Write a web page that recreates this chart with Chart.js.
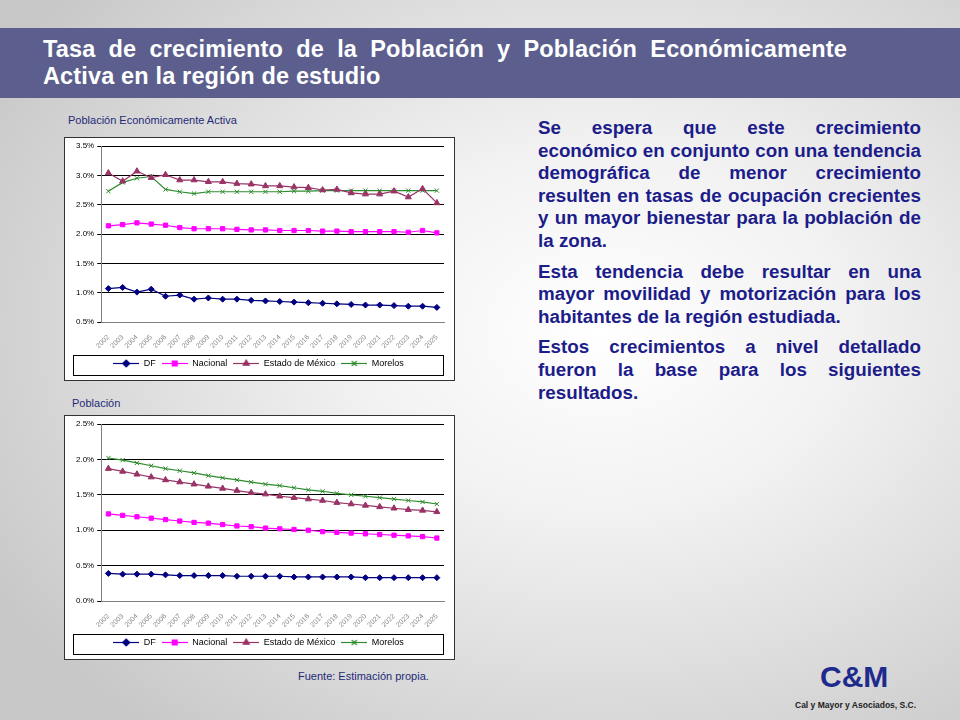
<!DOCTYPE html>
<html>
<head>
<meta charset="utf-8">
<script src="https://cdn.jsdelivr.net/npm/chart.js@4"></script>
<style>
  body { margin: 0; width: 960px; height: 720px; overflow: hidden; font-family: Arial, "Liberation Sans", sans-serif;
    background: radial-gradient(ellipse 700px 520px at 600px 330px, #ffffff 0%, #f2f2f2 35%, #c8c8c8 100%); position: relative; }
  .header { position: absolute; left: 0; top: 28px; width: 960px; height: 70px; background: #5c5f8e; }
  .header h1 { margin: 0; position: absolute; left: 43px; top: 8px; width: 804px; color: #fff; font-size: 20px; line-height: 27px; font-weight: bold; letter-spacing: 0.15px; }
  .header h1 span { display: block; text-align: justify; text-align-last: justify; }
  .cap { position: absolute; font-size: 11px; color: #1f2a78; }
  .box { position: absolute; left: 64px; width: 389px; background: #fff; border: 1px solid #333; }
  .box canvas { display: block; }
  .text { position: absolute; left: 538px; top: 117px; width: 383px; color: #1c1c8a; font-weight: bold; font-size: 18.8px; line-height: 22.6px; text-align: justify; }
  .text p { margin: 0 0 8px 0; }
  .logo { position: absolute; left: 820px; top: 660px; color: #1e2a8c; font-weight: bold; font-size: 30px; }
  .logo2 { position: absolute; left: 795px; top: 700px; color: #222; font-weight: bold; font-size: 8.5px; }
</style>
</head>
<body>
<div class="header"><h1 style="font-size:23.5px"><span>Tasa de crecimiento de la Población y Población Económicamente</span>Activa en la región de estudio</h1></div>
<div class="cap" style="left:68px;top:114px">Población Económicamente Activa</div>
<div class="box" style="top:137px;height:242px"><canvas id="peaChart" width="389" height="242"></canvas></div>
<div class="cap" style="left:72px;top:397px">Población</div>
<div class="box" style="top:415px;height:243px"><canvas id="pobChart" width="389" height="243"></canvas></div>
<div class="cap" style="left:298px;top:670px">Fuente: Estimación propia.</div>
<div class="text">
  <p>Se espera que este crecimiento económico en conjunto con una tendencia demográfica de menor crecimiento resulten en tasas de ocupación crecientes y un mayor bienestar para la población de la zona.</p>
  <p>Esta tendencia debe resultar en una mayor movilidad y motorización para los habitantes de la región estudiada.</p>
  <p>Estos crecimientos a nivel detallado fueron la base para los siguientes resultados.</p>
</div>
<div class="logo">C&amp;M</div>
<div class="logo2">Cal y Mayor y Asociados, S.C.</div>
<script>
// years on the x axis
const years = ['2002','2003','2004','2005','2006','2007','2008','2009','2010','2011','2012','2013',
               '2014','2015','2016','2017','2018','2019','2020','2021','2022','2023','2024','2025'];

// Población Económicamente Activa (%)
const peaDF       = [1.07,1.09,1.01,1.06,0.94,0.96,0.89,0.91,0.89,0.89,0.87,0.86,0.85,0.84,0.83,0.82,0.81,0.80,0.79,0.79,0.78,0.77,0.77,0.75];
const peaNacional = [2.14,2.16,2.19,2.17,2.15,2.11,2.09,2.09,2.09,2.08,2.07,2.07,2.06,2.06,2.06,2.05,2.05,2.04,2.04,2.04,2.04,2.03,2.06,2.02];
const peaEdoMex   = [3.04,2.90,3.07,2.96,3.01,2.92,2.92,2.89,2.89,2.86,2.85,2.82,2.82,2.80,2.79,2.75,2.76,2.70,2.68,2.68,2.73,2.63,2.77,2.53];
const peaMorelos  = [2.73,2.88,2.95,2.98,2.76,2.72,2.69,2.72,2.72,2.72,2.72,2.72,2.72,2.73,2.73,2.74,2.74,2.74,2.74,2.74,2.74,2.74,2.74,2.74];

// Población (%)
const pobDF       = [0.39,0.38,0.38,0.38,0.37,0.36,0.36,0.36,0.36,0.35,0.35,0.35,0.35,0.34,0.34,0.34,0.34,0.34,0.33,0.33,0.33,0.33,0.33,0.33];
const pobNacional = [1.23,1.21,1.19,1.17,1.15,1.13,1.11,1.10,1.08,1.06,1.05,1.03,1.02,1.01,1.00,0.98,0.97,0.96,0.95,0.94,0.93,0.92,0.91,0.89];
const pobEdoMex   = [1.87,1.83,1.79,1.75,1.71,1.68,1.65,1.62,1.59,1.56,1.53,1.51,1.48,1.46,1.44,1.42,1.39,1.37,1.35,1.33,1.31,1.29,1.28,1.26];
const pobMorelos  = [2.02,1.99,1.95,1.91,1.87,1.84,1.81,1.77,1.74,1.71,1.68,1.65,1.63,1.60,1.57,1.55,1.52,1.50,1.48,1.46,1.44,1.42,1.40,1.37];

Chart.defaults.font.family = 'Arial, "Liberation Sans", sans-serif';
Chart.defaults.font.size = 8;
Chart.defaults.color = '#000';

// draws a frame around the legend, like the Excel original
const legendFrame = {
    id: 'legendFrame',
    afterDraw(chart) {
        const l = chart.legend;
        if (!l) return;
        const ctx = chart.ctx;
        ctx.save();
        ctx.strokeStyle = '#000';
        ctx.lineWidth = 1;
        ctx.strokeRect(l.left + 0.5, l.top + 2.5, l.width - 1, l.height - 5);
        ctx.restore();
    }
};

// legend symbol: short line with the marker in the middle
function legendIcon(color, style) {
    const c = document.createElement('canvas');
    c.width = 26; c.height = 9;
    const g = c.getContext('2d');
    g.strokeStyle = color; g.fillStyle = color; g.lineWidth = 1.2;
    g.beginPath(); g.moveTo(0, 4.5); g.lineTo(26, 4.5); g.stroke();
    Chart.helpers.drawPoint(g, { pointStyle: style, radius: 3.5, borderWidth: 1 }, 13, 4.5);
    return c;
}

function series(label, data, color, style, radius) {
    return {
        label: label, data: data, borderColor: color, backgroundColor: color,
        borderWidth: 1.2, pointStyle: style, pointRadius: radius, pointBorderWidth: 1, tension: 0,
        legendIcon: legendIcon(color, style)
    };
}

function makeChart(id, d, minY, maxY) {
    new Chart(document.getElementById(id), {
        type: 'line',
        data: {
            labels: years,
            datasets: [
                series('DF', d[0], '#000080', 'rectRot', 3),
                series('Nacional', d[1], '#ff00ff', 'rect', 3),
                series('Estado de México', d[2], '#993366', 'triangle', 3.5),
                series('Morelos', d[3], '#2e8b2e', 'crossRot', 3)
            ]
        },
        options: {
            responsive: false,
            animation: false,
            layout: { padding: { left: 8, right: 10, top: 8, bottom: 2 } },
            plugins: {
                legend: {
                    position: 'bottom',
                    labels: { usePointStyle: true, pointStyleWidth: 26, boxHeight: 9, padding: 6, font: { size: 9 },
                        generateLabels(chart) {
                            return chart.data.datasets.map((ds, i) => ({
                                text: ds.label, pointStyle: ds.legendIcon, fillStyle: ds.backgroundColor,
                                strokeStyle: ds.borderColor, lineWidth: 0, datasetIndex: i
                            }));
                        }
                    }
                },
                tooltip: { enabled: false }
            },
            scales: {
                x: {
                    offset: true,
                    grid: { display: false },
                    border: { color: '#808080' },
                    ticks: { autoSkip: false, maxRotation: 45, minRotation: 45, color: '#888', font: { size: 7 } }
                },
                y: {
                    min: minY, max: maxY,
                    grid: { color: '#000', drawTicks: true, tickLength: 4 },
                    border: { color: '#808080' },
                    ticks: { stepSize: 0.5, callback: v => v.toFixed(1) + '%', font: { size: 8 } }
                }
            }
        },
        plugins: [legendFrame]
    });
}

makeChart('peaChart', [peaDF, peaNacional, peaEdoMex, peaMorelos], 0.5, 3.5);
makeChart('pobChart', [pobDF, pobNacional, pobEdoMex, pobMorelos], 0, 2.5);
</script>
</body>
</html>
